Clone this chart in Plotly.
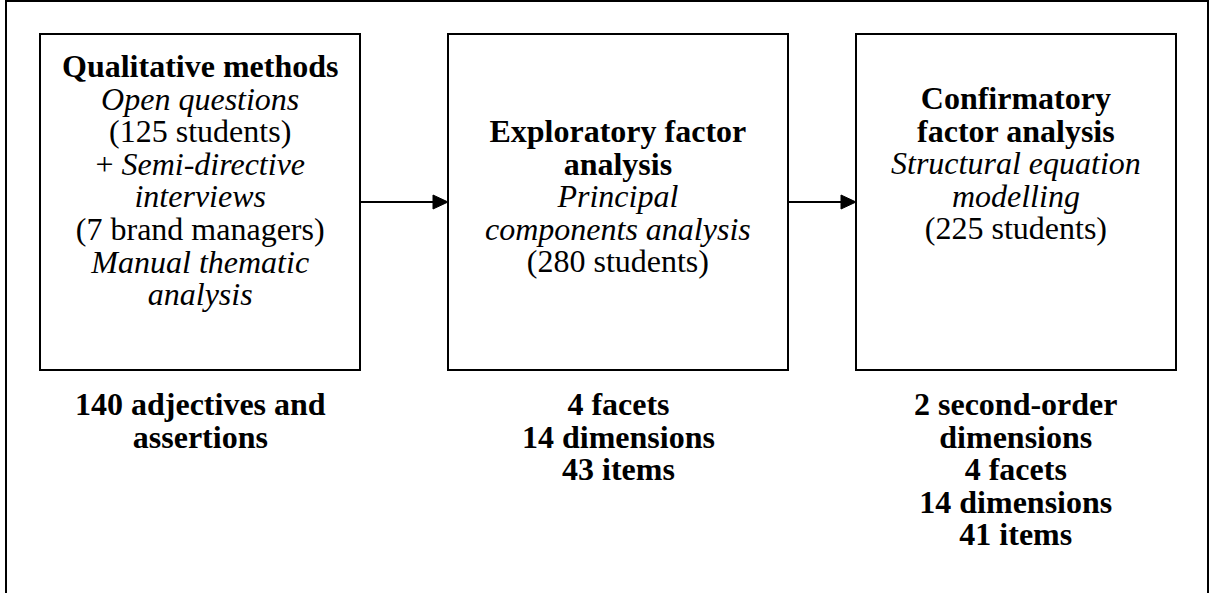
import plotly.graph_objects as go

# ---- content ----
box1_lines = ["<b>Qualitative methods</b>", "<i>Open questions</i>", "(125 students)",
              "+ <i>Semi-directive</i>", "<i>interviews</i>", "(7 brand managers)",
              "<i>Manual thematic</i>", "<i>analysis</i>"]
box2_lines = ["<b>Exploratory factor</b>", "<b>analysis</b>", "<i>Principal</i>",
              "<i>components analysis</i>", "(280 students)"]
box3_lines = ["<b>Confirmatory</b>", "<b>factor analysis</b>", "<i>Structural equation</i>",
              "<i>modelling</i>", "(225 students)"]
out1_lines = ["<b>140 adjectives and</b>", "<b>assertions</b>"]
out2_lines = ["<b>4 facets</b>", "<b>14 dimensions</b>", "<b>43 items</b>"]
out3_lines = ["<b>2 second-order</b>", "<b>dimensions</b>", "<b>4 facets</b>",
              "<b>14 dimensions</b>", "<b>41 items</b>"]

# ---- layout geometry (pixels) ----
W, H = 1213, 593
boxes = [(40, 360), (448, 788), (856, 1176)]
box_top, box_bot = 34, 370
line_h = 32.6
box_first = [66, 131, 98]
out_first = 404
arrow_y = 202

FONT = "Liberation Serif"
fs_visible = 32
fs_base = line_h / 1.3   # plotly line spacing is 1.3em of the base font

fig = go.Figure()
shapes = []
# outer frame
shapes.append(dict(type="rect", x0=6, x1=1208, y0=1, y1=H + 10,
                   line=dict(color="black", width=2), xref="x", yref="y"))
for (x0, x1) in boxes:
    shapes.append(dict(type="rect", x0=x0, x1=x1, y0=box_top, y1=box_bot,
                       line=dict(color="black", width=2), xref="x", yref="y"))
# arrows
for i in range(2):
    xs = boxes[i][1]
    xe = boxes[i + 1][0]
    shapes.append(dict(type="line", x0=xs, x1=xe - 12, y0=arrow_y, y1=arrow_y,
                       line=dict(color="black", width=2), xref="x", yref="y"))
    shapes.append(dict(type="path",
                       path=f"M {xe-15},{arrow_y-7} L {xe},{arrow_y} L {xe-15},{arrow_y+7} Z",
                       fillcolor="black", line=dict(color="black", width=1),
                       xref="x", yref="y"))

annotations = []
def add_block(lines, cx, y_first):
    text = "<br>".join(f'<span style="font-size:{fs_visible}px">{t}</span>' for t in lines)
    y_center = y_first + (len(lines) - 1) * line_h / 2
    annotations.append(dict(x=cx, y=y_center, text=text, showarrow=False,
                            xref="x", yref="y", xanchor="center", yanchor="middle",
                            align="center",
                            font=dict(family=FONT, size=fs_base, color="black")))

for (x0, x1), lines, y0 in zip(boxes, [box1_lines, box2_lines, box3_lines], box_first):
    add_block(lines, (x0 + x1) / 2, y0)
for (x0, x1), lines in zip(boxes, [out1_lines, out2_lines, out3_lines]):
    add_block(lines, (x0 + x1) / 2, out_first)

fig.update_layout(
    width=W, height=H,
    margin=dict(l=0, r=0, t=0, b=0),
    paper_bgcolor="white", plot_bgcolor="white",
    shapes=shapes, annotations=annotations,
    xaxis=dict(range=[0, W], visible=False, fixedrange=True),
    yaxis=dict(range=[H, 0], visible=False, fixedrange=True),
    showlegend=False,
)
fig.write_html("out.html", config={"displayModeBar": False},
               post_script="document.body.style.margin='0';document.body.style.overflow='hidden';")
